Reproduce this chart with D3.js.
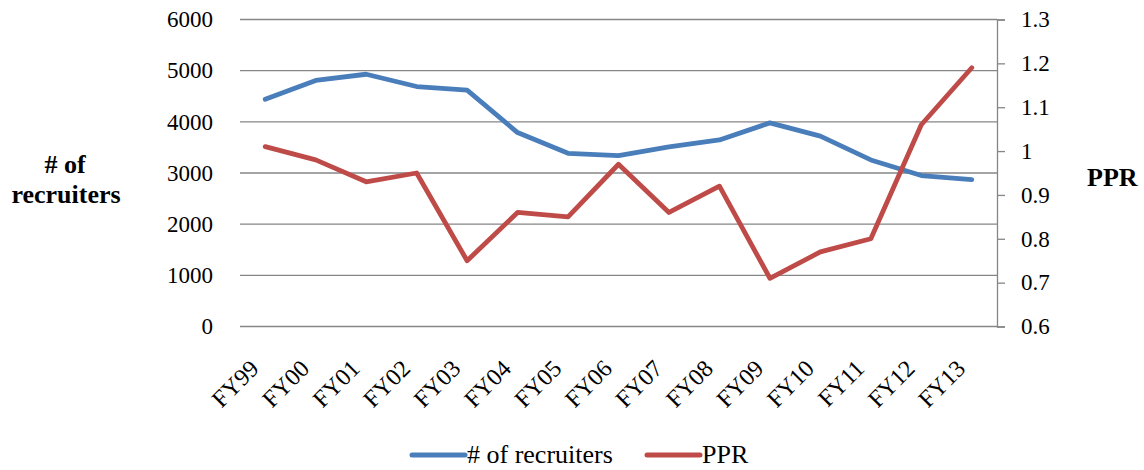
<!DOCTYPE html>
<html>
<head>
<meta charset="utf-8">
<script src="https://cdn.jsdelivr.net/npm/d3@7"></script>
<style>
  html, body { margin: 0; padding: 0; background: #fff; }
  svg { display: block; }
  .lbl { font-family: "Liberation Serif", "Times New Roman", serif; fill: #000; }
  .tick-lbl { font-family: "Liberation Serif", serif; font-size: 23px; fill: #000; }
</style>
</head>
<body>
<svg id="chart" width="1144" height="470"></svg>
<script>
const categories = ["FY99","FY00","FY01","FY02","FY03","FY04","FY05","FY06","FY07","FY08","FY09","FY10","FY11","FY12","FY13"];
const recruiters = [4440, 4810, 4930, 4690, 4620, 3790, 3385, 3340, 3510, 3645, 3980, 3720, 3255, 2950, 2870];
const ppr = [1.01, 0.98, 0.93, 0.95, 0.75, 0.86, 0.85, 0.97, 0.86, 0.92, 0.71, 0.77, 0.80, 1.06, 1.19];
const leftTicks = [0, 1000, 2000, 3000, 4000, 5000, 6000];
const rightTicks = [0.6, 0.7, 0.8, 0.9, 1.0, 1.1, 1.2, 1.3];
const rightTickLabels = ["0.6", "0.7", "0.8", "0.9", "1", "1.1", "1.2", "1.3"];
const seriesNames = ["# of recruiters", "PPR"];

const svg = d3.select("#chart");
const L = 240, R = 997, T = 19.5, B = 326.5;
const gridColor = "#868686";
const blue = "#4a7ebb", red = "#be4b48";

const x = d3.scaleBand().domain(categories).range([L, R]).paddingInner(0).paddingOuter(0);
const cx = c => x(c) + x.bandwidth() / 2;
const yL = d3.scaleLinear().domain([0, 6000]).range([B, T]);
const yR = d3.scaleLinear().domain([0.6, 1.3]).range([B, T]);

// gridlines
svg.append("g").selectAll("line").data(leftTicks).join("line")
  .attr("x1", L).attr("x2", R)
  .attr("y1", d => yL(d)).attr("y2", d => yL(d))
  .attr("stroke", gridColor).attr("stroke-width", 1.3);

// left tick labels
svg.append("g").selectAll("text").data(leftTicks).join("text")
  .attr("class", "tick-lbl")
  .attr("x", L - 27).attr("y", d => yL(d)).attr("dy", "0.34em")
  .attr("text-anchor", "end")
  .text(d => String(d));

// right axis line + ticks
const gr = svg.append("g").attr("transform", `translate(${R},0)`)
  .call(d3.axisRight(yR).tickValues(rightTicks).tickSize(8).tickFormat(""));
gr.select(".domain").attr("stroke", gridColor).attr("stroke-width", 1.3);
gr.selectAll(".tick line").attr("stroke", gridColor).attr("stroke-width", 1.3);
gr.selectAll(".tick text").remove();

// right tick labels
svg.append("g").selectAll("text").data(rightTicks).join("text")
  .attr("class", "tick-lbl")
  .attr("x", R + 24).attr("y", d => yR(d)).attr("dy", "0.34em")
  .attr("text-anchor", "start")
  .text((d, i) => rightTickLabels[i]);

// x labels
svg.append("g").selectAll("text").data(categories).join("text")
  .attr("class", "lbl")
  .attr("transform", d => `translate(${cx(d) - 5},370) rotate(-45)`)
  .attr("text-anchor", "end")
  .attr("font-size", 24)
  .text(d => d);

// lines
const lineL = d3.line().x((d, i) => cx(categories[i])).y(d => yL(d));
const lineR = d3.line().x((d, i) => cx(categories[i])).y(d => yR(d));
svg.append("path").datum(recruiters).attr("d", lineL)
  .attr("fill", "none").attr("stroke", blue).attr("stroke-width", 4.8)
  .attr("stroke-linejoin", "round").attr("stroke-linecap", "round");
svg.append("path").datum(ppr).attr("d", lineR)
  .attr("fill", "none").attr("stroke", red).attr("stroke-width", 4.8)
  .attr("stroke-linejoin", "round").attr("stroke-linecap", "round");

// axis titles
const lt = svg.append("text").attr("class", "lbl").attr("font-size", 26).attr("font-weight", "bold").attr("text-anchor", "middle");
lt.append("tspan").attr("x", 65).attr("y", 173).text("# of");
lt.append("tspan").attr("x", 66).attr("y", 203).text("recruiters");
svg.append("text").attr("class", "lbl").attr("x", 1087).attr("y", 186).attr("font-size", 26).attr("font-weight", "bold").text("PPR");

// legend
const legend = [{name: seriesNames[0], color: blue, x: 412}, {name: seriesNames[1], color: red, x: 647}];
const lg = svg.append("g");
legend.forEach(l => {
  lg.append("line").attr("x1", l.x).attr("x2", l.x + 53).attr("y1", 455).attr("y2", 455)
    .attr("stroke", l.color).attr("stroke-width", 5).attr("stroke-linecap", "round");
  lg.append("text").attr("class", "lbl").attr("x", l.x + 55).attr("y", 463).attr("font-size", 26).text(l.name);
});
</script>
</body>
</html>
